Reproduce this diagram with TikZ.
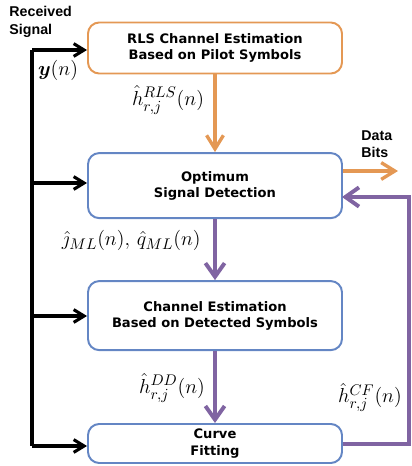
\documentclass[tikz,border=0pt]{standalone}
\usepackage{fontspec}
\setmainfont{DejaVu Sans}
\newfontfamily\lblfont{Liberation Sans}
\usepackage{amsmath}
\usetikzlibrary{arrows.meta}
\definecolor{boxorange}{RGB}{228,152,84}
\definecolor{boxblue}{RGB}{100,134,196}
\definecolor{fbpurple}{RGB}{128,100,162}

\begin{document}
\begin{tikzpicture}[
  block/.style={draw=boxblue, line width=1.4pt, rounded corners=0.28cm,
    minimum width=6.35cm, align=center, font=\fontsize{9.3}{11.6}\selectfont\bfseries},
  bus/.style={black, line width=2.2pt, -{Straight Barb[length=2.6mm,width=3.2mm,line width=2.2pt]}},
  orangearr/.style={boxorange, line width=2.4pt, -{Straight Barb[length=3.4mm,width=4.2mm,line width=2.4pt]}},
  purplearr/.style={fbpurple, line width=2.8pt, -{Straight Barb[length=3.4mm,width=4.8mm,line width=2.8pt]}},
  lbl/.style={font=\lblfont\fontsize{10.1}{11.8}\selectfont\bfseries, align=left, inner sep=0pt},
  mlbl/.style={font=\fontsize{15}{17}\selectfont}
]
\useasboundingbox (0,0) rectangle (10.3,11.65);
%% nodes
\node[block, draw=boxorange, minimum height=1.275cm] (rls) at (5.375,10.45) {RLS Channel Estimation\\Based on Pilot Symbols};
\node[block, minimum height=1.625cm] (det) at (5.375,7.01) {Optimum\\Signal Detection};
\node[block, minimum height=1.725cm] (dd) at (5.375,3.76) {Channel Estimation\\Based on Detected Symbols};
\node[block, minimum height=0.975cm] (cf) at (5.375,0.5625) {Curve\\Fitting};
%% labels
\node[lbl, anchor=west, font=\lblfont\fontsize{10.1}{12.4}\selectfont\bfseries] (rx) at (0.23,11.1) {Received\\Signal};
\node[mlbl] (yn) at (1.45,9.9) {$\boldsymbol{y}(n)$};
\node[mlbl] (hrls) at (4.2,9.15) {$\hat{h}_{r,j}^{RLS}(n)$};
\node[lbl] (bits) at (9.42,8.05) {Data\\Bits};
\node[mlbl] (jq) at (3.28,5.63) {$\hat{\jmath}_{ML}(n),\,\hat{q}_{ML}(n)$};
\node[mlbl] (hdd) at (4.3,1.95) {$\hat{h}_{r,j}^{DD}(n)$};
\node[mlbl] (hcf) at (9.25,1.72) {$\hat{h}_{r,j}^{CF}(n)$};
%% bus points
\coordinate (b1) at (0.8,10.4);
\coordinate (b2) at (0.8,7.075);
\coordinate (b3) at (0.8,3.75);
\coordinate (b4) at (0.8,0.5);
\coordinate (out) at (9.95,7.375);
\coordinate (fb) at (10.22,0.55);
\coordinate (fbin) at (8.55,6.725);
%%% edges
\draw[black, line width=2.2pt] (b1) -- (b4);
\draw[bus] (b1) -- (rls.west |- b1);
\draw[bus] (b2) -- (det.west |- b2);
\draw[bus] (b3) -- (dd.west |- b3);
\draw[bus] (b4) -- (cf.west |- b4);
\draw[orangearr] (rls.south) -- (det.north);
\draw[orangearr] (det.east |- out) -- (out);
\draw[purplearr] (det.south) -- (dd.north);
\draw[purplearr] (dd.south) -- (cf.north);
\draw[purplearr] (cf.east |- fb) -- (fb) |- (fbin);
\end{tikzpicture}
\end{document}
